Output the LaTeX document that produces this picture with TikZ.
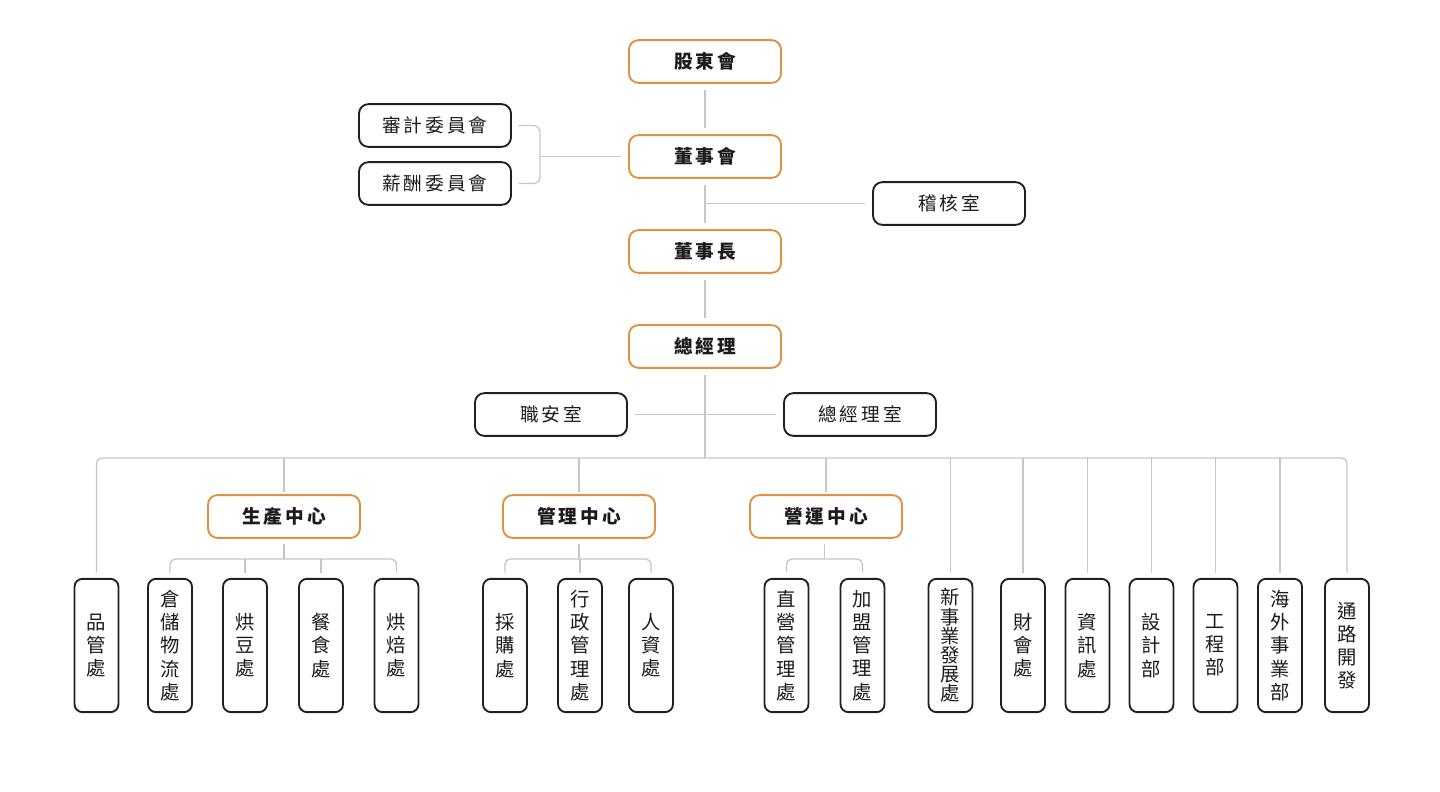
\documentclass[tikz,border=0pt]{standalone}
\usepackage{fontspec}
\usepackage{xcolor}
\newfontfamily\cjk{Noto Sans CJK TC}
\newfontfamily\cjksp[LetterSpace=16]{Noto Sans CJK TC}
\definecolor{orangeline}{HTML}{E0913F}
\definecolor{boxline}{HTML}{231F20}
\definecolor{linegray}{HTML}{C6C6C6}
\definecolor{textdark}{HTML}{1E1A1A}

\tikzset{
  lead/.style={draw=orangeline, line width=1.4pt, rounded corners=7pt,
    minimum width=114pt, minimum height=32pt, inner sep=0pt, text=textdark,
    font=\cjksp\bfseries\fontsize{14}{16}\selectfont},
  staff/.style={lead, draw=boxline, font=\cjksp\fontsize{14}{16}\selectfont},
  dept/.style={draw=boxline, line width=1.4pt, rounded corners=6pt,
    minimum width=33pt, minimum height=100pt, inner sep=0pt, align=center,
    text=textdark, font=\cjk\fontsize{14.5}{17.4}\selectfont},
  link/.style={draw=linegray, line width=1pt},
}

\begin{document}
\begin{tikzpicture}[x=0.75pt,y=-0.75pt]
\useasboundingbox (0,0) rectangle (1440,792);

        % board level

        \node[lead] (gd) at (705,61.5) {股東會};
        \node[lead] (dsh) at (705,156.5) {董事會};
        \node[lead] (dsz) at (705,251.5) {董事長};
        \node[lead] (zjl) at (705,346.5) {總經理};

        \node[staff] (sj) at (435,125.5) {審計委員會};
        \node[staff] (xc) at (435,183.5) {薪酬委員會};
        \node[staff] (jh) at (949,203.5) {稽核室};
        \node[staff] (za) at (551,414.5) {職安室};
        \node[staff] (zjs) at (860,414.5) {總經理室};

        \coordinate (cm) at (540,156.5);
        \coordinate (bus) at (705,458);

        \draw[link, shorten <=5pt, shorten >=5pt] (gd) -- (dsh);
        \draw[link, shorten <=5pt, shorten >=5pt] (dsh) -- (dsz);
        \draw[link, shorten <=5pt, shorten >=5pt] (dsz) -- (zjl);
        \draw[link, shorten >=5pt] (dsh.south |- jh.west) -- (jh.west);
        \draw[link, rounded corners=5pt] ([xshift=5pt]sj.east) -| (cm) |- ([xshift=5pt]xc.east);
        \draw[link, shorten >=5pt] (cm) -- (dsh.west);
        \draw[link, shorten <=5pt] (zjl) -- (bus);
        \draw[link, shorten <=5pt, shorten >=5pt] (za) -- (zjs);

        % centres

        \node[lead] (sc) at (284,516.5) {生產中心};
        \node[lead] (gl) at (579,516.5) {管理中心};
        \node[lead] (yy) at (826,516.5) {營運中心};

        % departments

        \node[dept] (pg) at (96.5,645.5) {品\\管\\處};
        \node[dept] (cc) at (170,645.5) {倉\\儲\\物\\流\\處};
        \node[dept] (hd) at (245,645.5) {烘\\豆\\處};
        \node[dept] (cs) at (321,645.5) {餐\\食\\處};
        \node[dept] (hb) at (396.5,645.5) {烘\\焙\\處};

        \node[dept] (cg) at (505,645.5) {採\\購\\處};
        \node[dept] (xz) at (580,645.5) {行\\政\\管\\理\\處};
        \node[dept] (rz) at (651,645.5) {人\\資\\處};

        \node[dept] (zy) at (786.5,645.5) {直\\營\\管\\理\\處};
        \node[dept] (jm) at (862.5,645.5) {加\\盟\\管\\理\\處};

        \node[dept, font=\cjk\fontsize{14.5}{14.4}\selectfont] (xs) at (950.5,645.5) {新\\事\\業\\發\\展\\處};
        \node[dept] (ck) at (1023,645.5) {財\\會\\處};
        \node[dept] (zx) at (1087.5,645.5) {資\\訊\\處};
        \node[dept] (sjb) at (1151.5,645.5) {設\\計\\部};
        \node[dept] (gc) at (1215.5,645.5) {工\\程\\部};
        \node[dept] (hw) at (1280,645.5) {海\\外\\事\\業\\部};
        \node[dept] (tl) at (1347,645.5) {通\\路\\開\\發};

        % main bus

        \draw[link, rounded corners=4pt] ([yshift=4pt]pg.north) |- (bus) -| ([yshift=4pt]tl.north);
        \foreach \n in {sc,gl,yy}
            \draw[link, shorten >=1.5pt] (\n.north |- bus) -- (\n.north);
        \foreach \n in {xs,ck,zx,sjb,gc,hw}
            \draw[link] (\n.north |- bus) -- ([yshift=4pt]\n.north);

        % sub brackets

        \coordinate (scb) at (284,559);
        \coordinate (glb) at (579,559);
        \coordinate (yyb) at (824.5,559);

        \draw[link, shorten <=4pt] (sc) -- (scb);
        \draw[link, rounded corners=4pt] ([yshift=4pt]cc.north) |- (scb) -| ([yshift=4pt]hb.north);
        \foreach \n in {hd,cs}
            \draw[link] (\n.north |- scb) -- ([yshift=4pt]\n.north);

        \draw[link, shorten <=4pt] (gl) -- (glb);
        \draw[link, rounded corners=4pt] ([yshift=4pt]cg.north) |- (glb) -| ([yshift=4pt]rz.north);
        \draw[link] (xz.north |- glb) -- ([yshift=4pt]xz.north);

        \draw[link, shorten <=4pt] (yy.south -| yyb) -- (yyb);
        \draw[link, rounded corners=4pt] ([yshift=4pt]zy.north) |- (yyb) -| ([yshift=4pt]jm.north);

\end{tikzpicture}
\end{document}
